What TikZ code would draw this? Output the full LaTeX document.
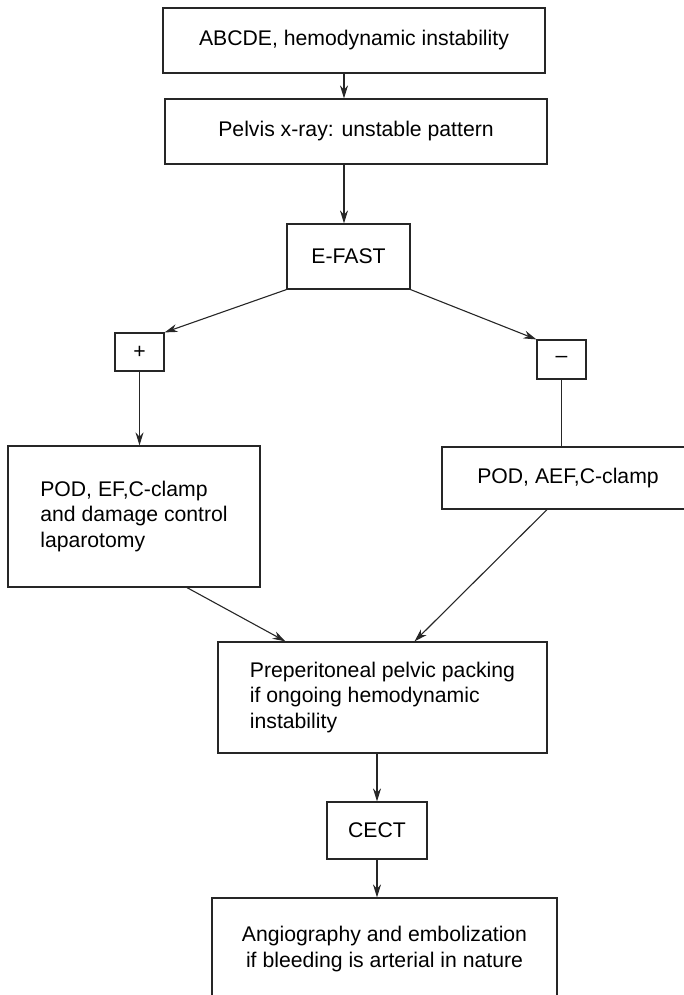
\documentclass[tikz,border=0pt]{standalone}
\usepackage{fontspec}
\setmainfont{Liberation Sans}
\usepackage{xcolor}
\usepackage{tikz}
\usetikzlibrary{arrows.meta,positioning}
\definecolor{inkx}{HTML}{262626}
\tikzset{
  ar/.style={-{Stealth[length=6.5pt,width=4pt]},line width=0.55pt,inkx},
  ln/.style={line width=0.55pt,inkx},
  box/.style={draw=inkx,line width=0.6pt,inner sep=0pt,align=center,font=\fontsize{10.6}{12.8}\selectfont}
}
\begin{document}
\begin{tikzpicture}[x=0.5pt,y=-0.5pt]
\useasboundingbox (0,0) rectangle (684,995);
\coordinate (spine) at (344,0);
\node[box,minimum width=191pt,minimum height=32.5pt] (abcde) at (354,40.5) {ABCDE, hemodynamic instability};
\node[box,minimum width=191pt,minimum height=32.5pt] (xray) at (356,131.5) {Pelvis x-ray: unstable pattern};
\node[box,minimum width=61.5pt,minimum height=32.5pt] (efast) at (348.5,256.5) {E-FAST};
\node[box,minimum width=24.5pt,minimum height=19pt] (pos) at (139.5,352) {+};
\node[box,minimum width=24.5pt,minimum height=19.5pt] (neg) at (561.5,359.5) {--};
\node[box,align=left,minimum width=126pt,minimum height=70.5pt] (podef) at (134,516.5) {POD, EF,C-clamp\\and damage control\\laparotomy};
\node[box,minimum width=126pt,minimum height=31pt] (podaef) at (568,478) {POD, AEF,C-clamp};
\node[box,align=left,minimum width=164.5pt,minimum height=55.5pt] (packing) at (382.5,697.5) {Preperitoneal pelvic packing\\if ongoing hemodynamic\\instability};
\node[box,minimum width=50pt,minimum height=28.5pt] (cect) at (377,830.5) {CECT};
\node[box,minimum width=172.5pt,minimum height=51pt] (angio) at (384.5,949) {Angiography and embolization\\if bleeding is arterial in nature};
% connectors
\draw[ar] (abcde.south -| spine) -- (xray.north -| spine);
\draw[ar] (xray.south -| spine) -- (efast.north -| spine);
\draw[ar] (efast.south west) -- (pos.north east);
\draw[ar] (efast.south east) -- (neg.north west);
\draw[ar] (pos.south) -- (pos.south |- podef.north);
\draw[ln] (neg.south) -- (neg.south |- podaef.north);
\draw[ar] ([xshift=26.5pt]podef.south) -- ([xshift=-48.5pt]packing.north);
\draw[ar] ([xshift=-10.5pt]podaef.south) -- ([xshift=16pt]packing.north);
\draw[ar] (packing.south -| cect.north) -- (cect.north);
\draw[ar] (cect.south) -- (cect.south |- angio.north);
\end{tikzpicture}
\end{document}
